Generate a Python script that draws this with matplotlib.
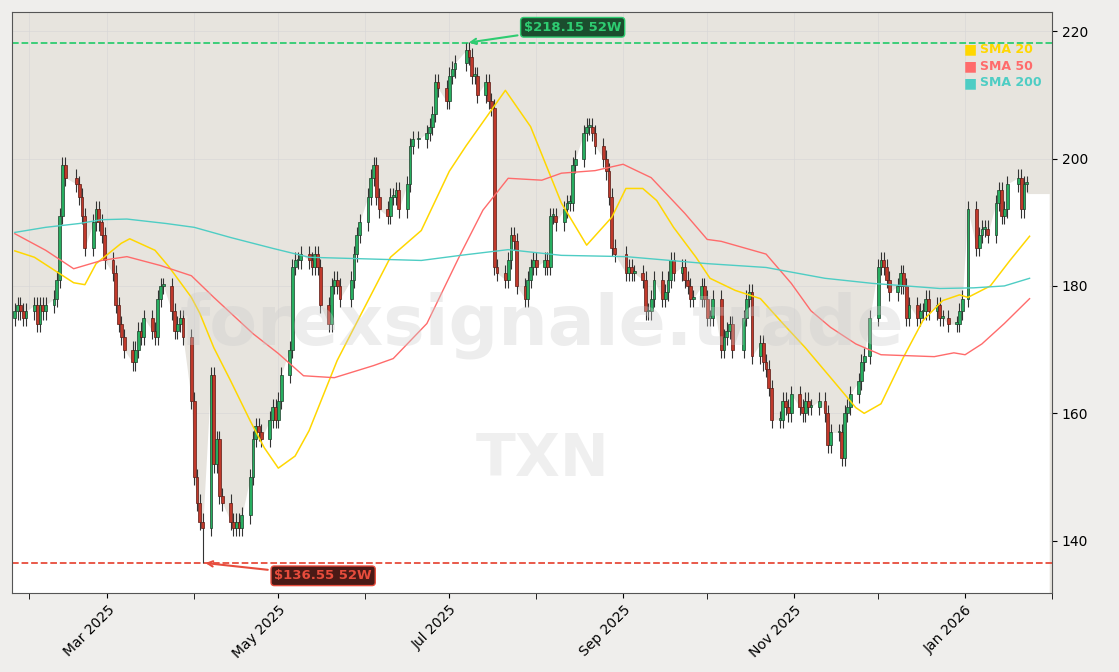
import matplotlib
matplotlib.use("Agg")
import matplotlib.pyplot as plt
import matplotlib.dates as mdates
import numpy as np
import pandas as pd
from pandas.tseries.holiday import USFederalHolidayCalendar
from pandas.tseries.offsets import CustomBusinessDay

# ── Data ─────────────────────────────────────────────────────────────────────
closes = [
    178, 175, 176, 177, 176, 175, 176, 177, 174, 177, 176, 177, 178, 181, 191,
    199, 197, 196, 194, 191, 186, 190, 192, 190, 188,
    184, 182, 177, 174, 172, 170, 168, 170, 173, 172, 175, 173, 172, 178, 180,
    180, 176, 173, 174, 175,
    172, 162, 150, 146, 143, 142, 166, 152, 156, 147, 146, 143, 142, 143, 142,
    144, 150, 156, 158, 157, 156,
    159, 161, 159, 162, 166, 170,
    183, 184, 184, 185, 184, 183, 185, 183, 177, 174, 180, 181, 180, 178, 181,
    185, 188, 190, 194, 197, 199, 194, 192, 191, 194, 194, 195, 192, 196, 202,
    203, 203, 204, 205, 207, 212, 211, 209, 213, 214, 215, 217, 216, 213, 213,
    210, 212, 209, 208,
    183, 182, 181, 184, 188, 187, 180, 178, 181, 183, 184, 183, 184, 183, 191,
    191, 190, 192, 193, 193, 199, 200, 204, 205, 205, 204, 202, 200, 198,
    194, 186, 185, 182, 183, 182, 182, 181, 176, 176, 178, 181, 178, 179, 181,
    184, 182, 183, 181, 180, 178, 178, 180, 178, 175, 175, 178, 170, 172, 173,
    174, 170, 175, 178, 179,
    169, 171, 168, 167, 164, 159, 159, 162, 161, 160, 163, 161, 160, 162, 161,
    161, 162, 160, 155, 157, 157, 153, 160, 161, 163, 165, 168, 169,
    175, 183, 184, 183, 181, 179, 180, 182, 180, 175, 177, 175, 176, 176, 178,
    176, 177, 175, 175, 174, 174, 176, 178, 192, 186, 188, 189, 189, 188, 193,
    195, 191, 192, 196, 197, 192, 196, 196,
]

sma20_dates = ["2025-01-27", "2025-02-03", "2025-02-17", "2025-02-21", "2025-02-25",
               "2025-03-06", "2025-03-09", "2025-03-18", "2025-03-23", "2025-03-31",
               "2025-04-03", "2025-04-08", "2025-04-14", "2025-04-21", "2025-04-26",
               "2025-05-01", "2025-05-07", "2025-05-12", "2025-05-22", "2025-06-10",
               "2025-06-21", "2025-07-01", "2025-07-07", "2025-07-21", "2025-07-30",
               "2025-08-10", "2025-08-19", "2025-08-28", "2025-09-02", "2025-09-08",
               "2025-09-13", "2025-09-19", "2025-09-27", "2025-10-02", "2025-10-11",
               "2025-10-20", "2025-10-28", "2025-11-05", "2025-11-15", "2025-11-23",
               "2025-11-26", "2025-12-02", "2025-12-10", "2025-12-17", "2025-12-24",
               "2025-12-30", "2026-01-02", "2026-01-10", "2026-01-17", "2026-01-24"]
sma20 = [185.5, 184.5, 180.5, 180.2, 183.5, 186.7, 187.4, 185.6, 183.0, 178.2,
         175.7, 170.3, 165.1, 158.8, 154.6, 151.4, 153.3, 157.3, 168.3, 184.5,
         188.7, 198.0, 202.0, 210.7, 205.0, 193.0, 186.4, 190.8, 195.3, 195.3,
         193.4, 189.2, 184.5, 181.2, 179.3, 178.0, 174.1, 170.3, 165.1, 160.9,
         160.0, 161.5, 168.8, 174.6, 177.7, 178.6, 178.2, 180.0, 184.0, 187.8]

sma50_dates = ["2025-01-27", "2025-02-07", "2025-02-17", "2025-02-27", "2025-03-08",
               "2025-03-20", "2025-03-31", "2025-04-08", "2025-04-22", "2025-05-01",
               "2025-05-10", "2025-05-21", "2025-06-04", "2025-06-11", "2025-06-23",
               "2025-07-05", "2025-07-13", "2025-07-22", "2025-08-03", "2025-08-10",
               "2025-08-22", "2025-09-01", "2025-09-11", "2025-09-23", "2025-10-01",
               "2025-10-06", "2025-10-22", "2025-10-31", "2025-11-07", "2025-11-14",
               "2025-11-23", "2025-12-02", "2025-12-21", "2025-12-28", "2026-01-01",
               "2026-01-07", "2026-01-15", "2026-01-24"]
sma50 = [188.2, 185.6, 182.7, 184.0, 184.6, 183.2, 181.6, 178.2, 172.5, 169.4,
         165.9, 165.6, 167.5, 168.6, 174.1, 185.0, 191.9, 196.9, 196.6, 197.7,
         198.1, 199.1, 197.0, 191.4, 187.3, 187.0, 185.0, 180.4, 176.1, 173.5,
         170.9, 169.2, 168.9, 169.5, 169.2, 170.9, 174.1, 178.0]

sma200_dates = ["2025-01-27", "2025-02-07", "2025-02-19", "2025-02-27", "2025-03-08",
                "2025-03-22", "2025-04-01", "2025-04-14", "2025-04-29", "2025-05-12",
                "2025-06-21", "2025-07-05", "2025-07-22", "2025-08-10", "2025-09-02",
                "2025-10-01", "2025-10-22", "2025-11-12", "2025-11-29", "2025-12-23",
                "2026-01-04", "2026-01-15", "2026-01-24"]
sma200 = [188.4, 189.2, 189.8, 190.4, 190.5, 189.8, 189.2, 187.6, 185.9, 184.5,
          184.0, 184.8, 185.7, 184.8, 184.6, 183.5, 182.9, 181.2, 180.4, 179.6,
          179.7, 180.0, 181.2]

high_52w = 218.15
low_52w = 136.55
ticker = "TXN"

# ── Build OHLC ────────────────────────────────────────────────────────────────
cbd = CustomBusinessDay(calendar=USFederalHolidayCalendar())
dates = pd.date_range(end="2026-01-23", periods=len(closes), freq=cbd)
df = pd.DataFrame({"close": closes}, index=dates)
df["open"] = df["close"].shift(1).fillna(df["close"].iloc[0] + 1)
WICK = 1.3
df["high"] = df[["open", "close"]].max(axis=1) + WICK
df["low"] = df[["open", "close"]].min(axis=1) - WICK
# extreme wicks at the 52-week marks
hi_date = df["close"].idxmax()
lo_date = df["close"].idxmin()
df.loc[hi_date, "high"] = high_52w
df.loc[lo_date, "low"] = low_52w

UP, DOWN = "#27ae60", "#c0392b"
BG = "#e7e4de"

fig = plt.figure(figsize=(11.19, 6.72), dpi=100, facecolor="#efeeec")
ax = fig.add_axes([12 / 1119, 1 - 593 / 672, 1040 / 1119, 581 / 672])
ax.set_facecolor(BG)

ymin, ymax = 131.8, 223.0
fill_end = pd.Timestamp("2026-01-31")

# white area under price
fx = list(df.index) + [fill_end]
fy = list(df["close"]) + [df["close"].iloc[-1] - 1.5]
fy[-2] = fy[-1]
ax.fill_between(fx, ymin, fy, color="white", zorder=1, linewidth=0)

# candles
x = mdates.date2num(df.index)
w = 1.0
for xi, o, h, l, c in zip(x, df["open"], df["high"], df["low"], df["close"]):
    up = c >= o
    ax.vlines(xi, l, h, color="#333333", linewidth=0.8, zorder=3)
    ax.bar(xi, max(abs(c - o), 0.3), bottom=min(o, c), width=w,
           color=UP if up else DOWN,
           edgecolor="#1f3d2a" if up else "#5a1a14", linewidth=0.5, zorder=4)

# moving averages
ax.plot(pd.to_datetime(sma20_dates), sma20, color="#FFD700", lw=1.1, zorder=5)
ax.plot(pd.to_datetime(sma50_dates), sma50, color="#FF6B6B", lw=1.0, zorder=5)
ax.plot(pd.to_datetime(sma200_dates), sma200, color="#4ECDC4", lw=1.0, zorder=5)

# 52-week lines
ax.axhline(high_52w, color="#2ecc71", ls="--", lw=1.3, zorder=2)
ax.axhline(low_52w, color="#e74c3c", ls="--", lw=1.3, zorder=2)
ax.annotate(f"${high_52w:.2f} 52W", xy=(hi_date, high_52w),
            xytext=(pd.Timestamp("2025-08-14"), 220.6), ha="center", va="center",
            fontsize=9.5, fontweight="bold", color="#2ecc71", zorder=7,
            bbox=dict(boxstyle="round,pad=0.25", fc="#1b4d2e", ec="#2ecc71", lw=1),
            arrowprops=dict(arrowstyle="->", color="#2ecc71", lw=1.5))
ax.annotate(f"${low_52w:.2f} 52W", xy=(lo_date, low_52w),
            xytext=(pd.Timestamp("2025-05-17"), 134.5), ha="center", va="center",
            fontsize=9.5, fontweight="bold", color="#e74c3c", zorder=7,
            bbox=dict(boxstyle="round,pad=0.25", fc="#4a1a16", ec="#e74c3c", lw=1),
            arrowprops=dict(arrowstyle="->", color="#e74c3c", lw=1.5))

# watermarks
ax.text(0.51, 0.46, "forexsignale.trade", transform=ax.transAxes, fontsize=50,
        fontweight="bold", color="#cccccc", alpha=0.35, ha="center", va="center", zorder=6)
ax.text(0.51, 0.23, ticker, transform=ax.transAxes, fontsize=42,
        fontweight="bold", color="#cccccc", alpha=0.3, ha="center", va="center", zorder=6)

# legend
for i, (lab, col) in enumerate([("SMA 20", "#FFD700"), ("SMA 50", "#FF6B6B"),
                                ("SMA 200", "#4ECDC4")]):
    yy = 0.936 - i * 0.029
    ax.text(0.915, yy, "■", transform=ax.transAxes, color=col, fontsize=10,
            va="center", zorder=8)
    ax.text(0.931, yy, lab, transform=ax.transAxes, color=col, fontsize=9,
            fontweight="bold", va="center", zorder=8)

ax.set_ylim(ymin, ymax)
ax.set_xlim(pd.Timestamp("2025-01-26"), pd.Timestamp("2026-02-01"))
ax.yaxis.tick_right()
ax.set_yticks([140, 160, 180, 200, 220])
ax.xaxis.set_major_locator(mdates.MonthLocator(bymonth=[1, 3, 5, 7, 9, 11]))
ax.xaxis.set_minor_locator(mdates.MonthLocator())
ax.xaxis.set_major_formatter(mdates.DateFormatter("%b %Y"))
plt.setp(ax.get_xticklabels(), rotation=45, ha="right", rotation_mode="anchor")
ax.tick_params(which="minor", length=4)
ax.grid(True, which="both", color="#d6d6d6", lw=0.6, alpha=0.7, zorder=0)
ax.set_axisbelow(True)
for s in ax.spines.values():
    s.set_color("#555555")

fig.savefig("out.png", dpi=100, facecolor=fig.get_facecolor())
